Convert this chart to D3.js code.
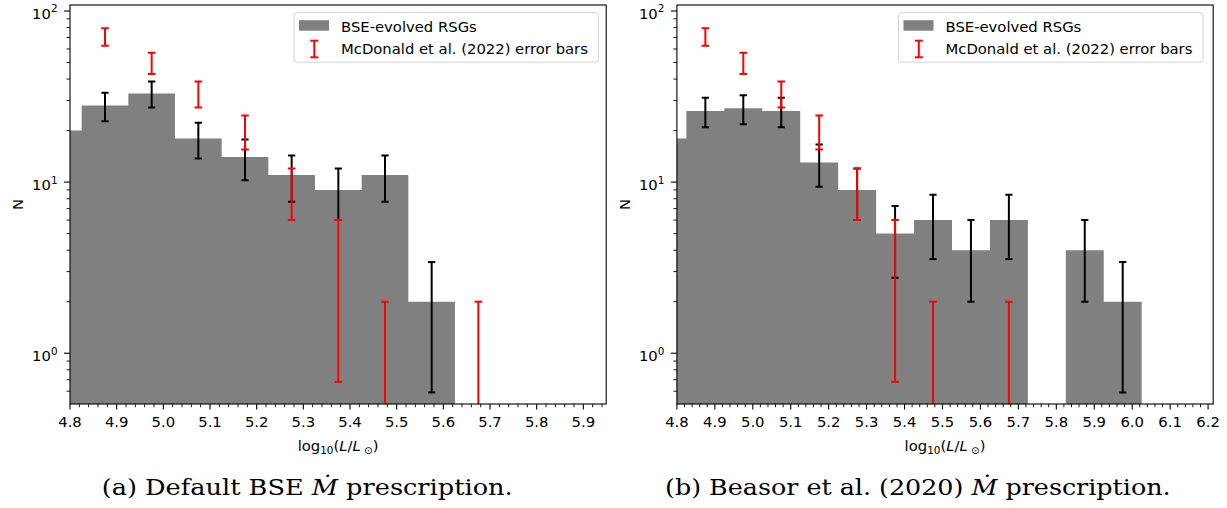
<!DOCTYPE html>
<html><head><meta charset="utf-8">
<script src="https://cdn.jsdelivr.net/npm/d3@7"></script>
<style>body{margin:0;background:#fff}</style>
</head><body>
<svg id="c" width="1227" height="508" xmlns="http://www.w3.org/2000/svg"></svg>
<script>
// ---------- data ----------
const binWidth = 0.1;
const binsA = [4.725, 4.825, 4.925, 5.025, 5.125, 5.225, 5.325, 5.425, 5.525];
const countsA = [20, 28, 33, 18, 14, 11, 9, 11, 2];
const errA = [4.47, 5.29, 5.74, 4.24, 3.74, 3.32, 3.0, 3.32, 1.41];

const binsB = [4.725, 4.825, 4.925, 5.025, 5.125, 5.225, 5.325, 5.425, 5.525, 5.625, 5.725, 5.825, 5.925];
const countsB = [18, 26, 27, 26, 13, 9, 5, 6, 4, 6, 0, 4, 2];
const errB = [4.24, 5.10, 5.20, 5.10, 3.61, 3.0, 2.24, 2.45, 2.0, 2.45, 0, 2.0, 1.41];

const mcdX = [4.875, 4.975, 5.075, 5.175, 5.275, 5.375, 5.475, 5.675];
const mcdLow = [62.6, 42.9, 27.3, 15.5, 6.0, 0.68, 0, 0];
const mcdHigh = [79.4, 57.1, 38.7, 24.5, 12.0, 6.0, 2.0, 2.0];

const xTicksA = [4.8, 4.9, 5.0, 5.1, 5.2, 5.3, 5.4, 5.5, 5.6, 5.7, 5.8, 5.9];
const xTicksB = [4.8, 4.9, 5.0, 5.1, 5.2, 5.3, 5.4, 5.5, 5.6, 5.7, 5.8, 5.9, 6.0, 6.1, 6.2];
const yTickExps = [0, 1, 2];
const yMinorVals = [0.6, 0.7, 0.8, 0.9, 2, 3, 4, 5, 6, 7, 8, 9, 20, 30, 40, 50, 60, 70, 80, 90];
const legendLabels = ["BSE-evolved RSGs", "McDonald et al. (2022) error bars"];
const captionA = ["(a) Default BSE ", "Ṁ", " prescription."];
const captionB = ["(b) Beasor et al. (2020) ", "Ṁ", " prescription."];

// ---------- drawing ----------
const svg = d3.select("#c");
const Y0 = 5, Y1 = 404;
const FONT = "DejaVu Sans, Verdana, sans-serif";
const FS = 14.8;

function panel(cfg, idx) {
  const x = d3.scaleLinear().domain([4.8, cfg.xmax]).range([cfg.x0, cfg.x1]);
  const y = d3.scaleLog().domain([0.505, 108.4]).range([Y1, Y0]);
  const g = svg.append("g");
  const clipId = "clip" + idx;
  svg.append("clipPath").attr("id", clipId).append("rect")
    .attr("x", cfg.x0).attr("y", Y0).attr("width", cfg.x1 - cfg.x0).attr("height", Y1 - Y0);
  const plot = g.append("g").attr("clip-path", `url(#${clipId})`);

  // histogram as one stepped path per run of non-empty bins (no seams)
  const p = d3.path();
  let open = false, lastEnd = 0;
  cfg.bins.forEach((b, i) => {
    const c = cfg.counts[i];
    if (c <= 0) {
      if (open) { p.lineTo(x(lastEnd), Y1 + 2); p.closePath(); open = false; }
      return;
    }
    if (!open) { p.moveTo(x(b), Y1 + 2); open = true; }
    p.lineTo(x(b), y(c));
    p.lineTo(x(b + binWidth), y(c));
    lastEnd = b + binWidth;
  });
  if (open) { p.lineTo(x(lastEnd), Y1 + 2); p.closePath(); }
  plot.append("path").attr("d", p.toString()).attr("fill", "#808080");

  function errbar(cx, lo, hi, color, capHalf) {
    const px = x(cx);
    const dom = y.domain();
    const yl = lo > dom[0] ? y(lo) : Y1 + 2;
    const yh = y(hi);
    plot.append("line").attr("x1", px).attr("x2", px).attr("y1", yl).attr("y2", yh)
      .attr("stroke", color).attr("stroke-width", 2);
    plot.append("line").attr("x1", px - capHalf).attr("x2", px + capHalf).attr("y1", yh).attr("y2", yh)
      .attr("stroke", color).attr("stroke-width", 2);
    if (lo > dom[0]) {
      plot.append("line").attr("x1", px - capHalf).attr("x2", px + capHalf).attr("y1", yl).attr("y2", yl)
        .attr("stroke", color).attr("stroke-width", 2);
    }
  }
  // black Poisson error bars
  cfg.bins.forEach((b, i) => {
    const c = cfg.counts[i];
    if (c <= 0) return;
    errbar(b + binWidth / 2, c - cfg.errs[i], c + cfg.errs[i], "#000", 3.6);
  });
  // red McDonald error bars
  mcdX.forEach((cx, i) => errbar(cx, mcdLow[i], mcdHigh[i], "#ff0000", 3.8));

  // spines
  g.append("rect").attr("x", cfg.x0).attr("y", Y0).attr("width", cfg.x1 - cfg.x0).attr("height", Y1 - Y0)
    .attr("fill", "none").attr("stroke", "#000").attr("stroke-width", 1.1);

  // x ticks
  const xMinor = d3.range(4.8, cfg.xmax + 1e-9, 0.02).filter(v => Math.abs(v * 10 - Math.round(v * 10)) > 1e-6);
  xMinor.forEach(v => g.append("line").attr("x1", x(v)).attr("x2", x(v)).attr("y1", Y1).attr("y2", Y1 + 3.3)
    .attr("stroke", "#000").attr("stroke-width", 0.9));
  cfg.xTicks.forEach(v => {
    g.append("line").attr("x1", x(v)).attr("x2", x(v)).attr("y1", Y1).attr("y2", Y1 + 5.5)
      .attr("stroke", "#000").attr("stroke-width", 1.1);
    g.append("text").attr("x", x(v)).attr("y", Y1 + 22.6).attr("text-anchor", "middle")
      .attr("font-family", FONT).attr("font-size", FS).attr("fill", "#000").text(v.toFixed(1));
  });

  // y ticks
  yMinorVals.forEach(v => g.append("line").attr("x1", cfg.x0 - 3.5).attr("x2", cfg.x0).attr("y1", y(v)).attr("y2", y(v))
    .attr("stroke", "#000").attr("stroke-width", 0.9));
  yTickExps.forEach(e => {
    const yy = y(Math.pow(10, e));
    g.append("line").attr("x1", cfg.x0 - 6).attr("x2", cfg.x0).attr("y1", yy).attr("y2", yy)
      .attr("stroke", "#000").attr("stroke-width", 1.1);
    const t = g.append("text").attr("x", cfg.x0 - 12.5).attr("y", yy + 7.7).attr("text-anchor", "end")
      .attr("font-family", FONT).attr("font-size", FS).attr("fill", "#000");
    t.append("tspan").text("10");
    t.append("tspan").attr("dy", -6.2).attr("font-size", 10.4).text(String(e));
  });

  // axis labels
  g.append("text").attr("transform", `translate(${cfg.x0 - 46.8},${(Y0 + Y1) / 2}) rotate(-90)`)
    .attr("text-anchor", "middle").attr("font-family", FONT).attr("font-size", FS).attr("fill", "#000").text("N");
  const xl = g.append("text").attr("x", (cfg.x0 + cfg.x1) / 2).attr("y", 450.5).attr("text-anchor", "middle")
    .attr("font-family", FONT).attr("font-size", FS).attr("fill", "#000");
  xl.append("tspan").text("log");
  xl.append("tspan").attr("dy", 3.5).attr("font-size", 10.4).text("10");
  xl.append("tspan").attr("dy", -3.5).text("(");
  xl.append("tspan").attr("font-style", "italic").text("L");
  xl.append("tspan").text("/");
  xl.append("tspan").attr("font-style", "italic").text("L");
  xl.append("tspan").attr("dy", 3.5).attr("font-size", 10.4).text(" ⊙");
  xl.append("tspan").attr("dy", -3.5).text(")");

  // legend
  const lx = cfg.legendX, ly = 12.7;
  const lg = g.append("g");
  lg.append("rect").attr("x", lx).attr("y", ly).attr("width", 304.5).attr("height", 49.5).attr("rx", 3)
    .attr("fill", "#fff").attr("fill-opacity", 0.8).attr("stroke", "#d3d3d3").attr("stroke-width", 1);
  lg.append("rect").attr("x", lx + 5).attr("y", ly + 7.5).attr("width", 30).attr("height", 10.5).attr("fill", "#808080");
  const ex = lx + 20.3;
  lg.append("line").attr("x1", ex).attr("x2", ex).attr("y1", ly + 28).attr("y2", ly + 44.6).attr("stroke", "#ff0000").attr("stroke-width", 2);
  [ly + 28, ly + 44.6].forEach(yy => lg.append("line").attr("x1", ex - 4).attr("x2", ex + 4).attr("y1", yy).attr("y2", yy)
    .attr("stroke", "#ff0000").attr("stroke-width", 2));
  lg.append("text").attr("x", lx + 47).attr("y", ly + 19).attr("font-family", FONT).attr("font-size", FS).attr("fill", "#000").text(legendLabels[0]);
  lg.append("text").attr("x", lx + 47).attr("y", ly + 41.6).attr("font-family", FONT).attr("font-size", FS).attr("fill", "#000").text(legendLabels[1]);

  // caption
  const cap = svg.append("text").attr("x", cfg.capX).attr("y", 495)
    .attr("font-family", "DejaVu Serif, Liberation Serif, serif").attr("font-size", 23).attr("fill", "#000")
    .attr("textLength", cfg.capW).attr("lengthAdjust", "spacingAndGlyphs");
  cap.append("tspan").text(cfg.caption[0]);
  cap.append("tspan").attr("font-style", "italic").text(cfg.caption[1]);
  cap.append("tspan").text(cfg.caption[2]);
}

panel({x0: 70, x1: 606.2, xmax: 5.949, bins: binsA, counts: countsA, errs: errA, xTicks: xTicksA,
       legendX: 294, caption: captionA, capX: 101.7, capW: 411}, 0);
panel({x0: 676.9, x1: 1213.2, xmax: 6.2135, bins: binsB, counts: countsB, errs: errB, xTicks: xTicksB,
       legendX: 898.5, caption: captionB, capX: 665, capW: 505.6}, 1);
</script>
</body></html>
